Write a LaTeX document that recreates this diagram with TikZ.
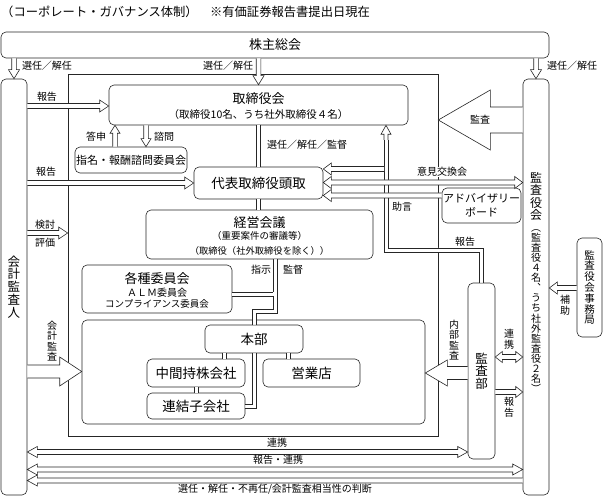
\documentclass[tikz,border=0pt]{standalone}
\usepackage{fontspec}
\setmainfont{Noto Sans CJK JP}
\usetikzlibrary{calc}
\newcommand\fz[2]{\fontsize{#1}{#2}\selectfont}
% hollow arrow, one head at #2: body half #3, head half #4, head length #5
\newcommand\harr[5]{%
 \filldraw[harrow] let \p1=(#1), \p2=(#2),
   \n1={veclen(\x2-\x1,\y2-\y1)},
   \n2={(\x2-\x1)/\n1}, \n3={(\y2-\y1)/\n1} in
 ({\x1-\n3*#3},{\y1+\n2*#3})
 -- ({\x2-\n2*#5-\n3*#3},{\y2-\n3*#5+\n2*#3})
 -- ({\x2-\n2*#5-\n3*#4},{\y2-\n3*#5+\n2*#4})
 -- (\x2,\y2)
 -- ({\x2-\n2*#5+\n3*#4},{\y2-\n3*#5-\n2*#4})
 -- ({\x2-\n2*#5+\n3*#3},{\y2-\n3*#5-\n2*#3})
 -- ({\x1+\n3*#3},{\y1-\n2*#3});}
% hollow arrow, heads at both ends
\newcommand\hdarr[5]{%
 \filldraw[harrow] let \p1=(#1), \p2=(#2),
   \n1={veclen(\x2-\x1,\y2-\y1)},
   \n2={(\x2-\x1)/\n1}, \n3={(\y2-\y1)/\n1} in
 ({\x1+\n2*#5-\n3*#3},{\y1+\n3*#5+\n2*#3})
 -- ({\x2-\n2*#5-\n3*#3},{\y2-\n3*#5+\n2*#3})
 -- ({\x2-\n2*#5-\n3*#4},{\y2-\n3*#5+\n2*#4})
 -- (\x2,\y2)
 -- ({\x2-\n2*#5+\n3*#4},{\y2-\n3*#5-\n2*#4})
 -- ({\x2-\n2*#5+\n3*#3},{\y2-\n3*#5-\n2*#3})
 -- ({\x1+\n2*#5+\n3*#3},{\y1+\n3*#5-\n2*#3})
 -- ({\x1+\n2*#5+\n3*#4},{\y1+\n3*#5-\n2*#4})
 -- (\x1,\y1)
 -- ({\x1+\n2*#5-\n3*#4},{\y1+\n3*#5+\n2*#4})
 -- cycle;}
% straight double connector (two thin parallel lines, white between)
\newcommand\dseg[2]{%
 \fill[white] ($(#1)!2pt!90:(#2)$) -- ($(#2)!2pt!-90:(#1)$) -- ($(#2)!2pt!90:(#1)$) -- ($(#1)!2pt!-90:(#2)$) -- cycle;
 \draw[dl] ($(#1)!2pt!90:(#2)$) -- ($(#2)!2pt!-90:(#1)$);
 \draw[dl] ($(#1)!2pt!-90:(#2)$) -- ($(#2)!2pt!90:(#1)$);}
\begin{document}
\begin{tikzpicture}[x=1pt,y=-1pt,
  box/.style={draw=black!85, fill=white, rounded corners=5pt, line width=0.6pt, inner sep=0pt, align=center},
  txt/.style={inner sep=0pt, align=center},
  lbl/.style={inner sep=0pt, align=center, font=\fz{10}{10.5}},
  vlbl/.style={inner sep=0pt, align=center, font=\fz{10}{10.6}},
  dl/.style={draw=black!85, line width=0.6pt, line join=miter},
  harrow/.style={draw=black!85, fill=white, line width=0.6pt, line join=miter}]
\useasboundingbox (0,0) rectangle (603,497);

\node[txt, anchor=west, font=\fz{12.3}{14}] (title) at (1,12) {（コーポレート・ガバナンス体制）　※有価証券報告書提出日現在};

% frames
\node[draw=black!85, line width=0.6pt, minimum width=370pt, minimum height=362pt, inner sep=0pt] (frame) at (253,255) {};
\node[box, minimum width=343pt, minimum height=104pt] (inner) at (253.5,372) {};

% boxes
\node[box, minimum width=548pt, minimum height=26pt, font=\fz{13}{14}] (kabunushi) at (275,45) {株主総会};
\node[box, minimum width=26pt, minimum height=416pt, font=\fz{12.5}{12.8}] (acc) at (14,287) {会\\計\\監\\査\\人};
\node[box, minimum width=26pt, minimum height=416pt] (kansayaku) at (536,287) {};
\node[txt, font=\fz{12}{12.2}] (kansayaku-t) at (536,196.5) {監\\査\\役\\会};
\node[txt, font=\fz{10}{10.1}] (kansayaku-s) at (536,311) {︵\\監\\査\\役\\４\\名\\︑\\う\\ち\\社\\外\\監\\査\\役\\２\\名\\︶};
\node[box, minimum width=25pt, minimum height=99pt, font=\fz{10.5}{10.8}] (jimukyoku) at (589.5,287.5) {監\\査\\役\\会\\事\\務\\局};

\node[box, minimum width=299pt, minimum height=40pt] (torishimari) at (258.5,105) {};
\node[txt, font=\fz{13}{14}] (torishimari-t) at (258.5,99) {取締役会};
\node[txt, font=\fz{10.5}{12}] (torishimari-s) at (258.5,114.5) {（取締役10名、うち社外取締役４名）};

\node[box, minimum width=112pt, minimum height=26pt, font=\fz{11}{12}] (shimei) at (131,160) {指名・報酬諮問委員会};
\node[box, minimum width=129pt, minimum height=32pt, font=\fz{13.5}{14}] (daihyo) at (258.5,183) {代表取締役頭取};

\node[box, minimum width=227pt, minimum height=49pt] (keiei) at (259.5,234.5) {};
\node[txt, font=\fz{13}{14}] (keiei-t) at (259.5,222.5) {経営会議};
\node[txt, font=\fz{9.5}{11}] (keiei-s1) at (259.5,235.5) {（重要案件の審議等）};
\node[txt, font=\fz{9.3}{11}] (keiei-s2) at (259.5,250.5) {（取締役（社外取締役を除く））};

\node[box, minimum width=79pt, minimum height=35pt] (advisory) at (481.5,205.5) {};
\node[txt, font=\fz{11}{12}] (advisory-t1) at (481.5,198.5) {アドバイザリー};
\node[txt, font=\fz{11}{12}] (advisory-t2) at (481.5,212) {ボード};

\node[box, minimum width=150pt, minimum height=48pt] (kakushu) at (157,289) {};
\node[txt, font=\fz{13}{14}] (kakushu-t) at (157,279) {各種委員会};
\node[txt, font=\fz{10}{11}] (kakushu-s1) at (157,293) {ＡＬＭ委員会};
\node[txt, font=\fz{9.5}{11}] (kakushu-s2) at (157,303.5) {コンプライアンス委員会};

\node[box, minimum width=98pt, minimum height=28pt, font=\fz{13.5}{14}] (honbu) at (254,339) {本部};
\node[box, minimum width=98pt, minimum height=28pt, font=\fz{13.5}{14}] (chukan) at (196,373) {中間持株会社};
\node[box, minimum width=97pt, minimum height=28pt, font=\fz{13.5}{14}] (eigyo) at (311.5,373) {営業店};
\node[box, minimum width=98pt, minimum height=26pt, font=\fz{13.5}{14}] (renketsu) at (196,406) {連結子会社};
\node[box, minimum width=27pt, minimum height=176pt, font=\fz{12.5}{12.5}] (kansabu) at (481.5,371) {監\\査\\部};

% bend points of the double connectors
\coordinate (j1) at (275,311);
\coordinate (j5) at (275,294);
\coordinate (j2) at (481.5,250);
\coordinate (j3) at (386,250);
\coordinate (j4) at (386,140);
\coordinate (c224) at (224,0);
\coordinate (c288) at (288,0);

% straight double connectors
\dseg{torishimari.south}{daihyo.north}
\dseg{daihyo.south}{daihyo.south |- keiei.north}
\dseg{honbu.south -| c224}{chukan.north -| c224}
\dseg{honbu.south -| c288}{eigyo.north -| c288}
\dseg{chukan.south}{renketsu.north}

% 経営会議 -> 本部
\fill[white] ($(keiei.south -| j1)+(2,0)$) -- ($(j1)+(2,2)$) -- ($(honbu.north |- j1)+(2,2)$) -- ($(honbu.north)+(2,0)$)
  -- ($(honbu.north)+(-2,0)$) -- ($(honbu.north |- j1)+(-2,-2)$) -- ($(j1)+(-2,-2)$) -- ($(keiei.south -| j1)+(-2,0)$) -- cycle;
\draw[dl] ($(keiei.south -| j1)+(2,0)$) -- ($(j1)+(2,2)$) -- ($(honbu.north |- j1)+(2,2)$) -- ($(honbu.north)+(2,0)$);
\draw[dl] ($(keiei.south -| j1)+(-2,0)$) -- ($(j1)+(-2,-2)$) -- ($(honbu.north |- j1)+(-2,-2)$) -- ($(honbu.north)+(-2,0)$);
% 各種委員会 branch
\fill[white] ($(kakushu.east |- j5)+(0,-2)$) rectangle ($(j5)+(0,2)$);
\draw[dl] ($(kakushu.east |- j5)+(0,-2)$) -- ($(j5)+(-2,-2)$);
\draw[dl] ($(kakushu.east |- j5)+(0,2)$) -- ($(j5)+(-2,2)$);
% 本部 -> 連結子会社
\fill[white] ($(honbu.south)+(2,0)$) -- ($(honbu.south |- renketsu.east)+(2,2)$) -- ($(renketsu.east)+(0,2)$)
  -- ($(renketsu.east)+(0,-2)$) -- ($(honbu.south |- renketsu.east)+(-2,-2)$) -- ($(honbu.south)+(-2,0)$) -- cycle;
\draw[dl] ($(honbu.south)+(2,0)$) -- ($(honbu.south |- renketsu.east)+(2,2)$) -- ($(renketsu.east)+(0,2)$);
\draw[dl] ($(honbu.south)+(-2,0)$) -- ($(honbu.south |- renketsu.east)+(-2,-2)$) -- ($(renketsu.east)+(0,-2)$);
% 監査部 -> 取締役会 (report)
\fill[white] ($(kansabu.north)+(2,0)$) -- ($(j2)+(2,-2)$) -- ($(j3)+(2,-2)$) -- ($(j4)+(2,0)$)
  -- ($(j4)+(-2,0)$) -- ($(j3)+(-2,2)$) -- ($(j2)+(-2,2)$) -- ($(kansabu.north)+(-2,0)$) -- cycle;
\draw[dl] ($(kansabu.north)+(2,0)$) -- ($(j2)+(2,-2)$) -- ($(j3)+(2,-2)$) -- ($(j4)+(2,0)$);
\draw[dl] ($(kansabu.north)+(-2,0)$) -- ($(j2)+(-2,2)$) -- ($(j3)+(-2,2)$) -- ($(j4)+(-2,0)$);

% hollow arrows
\harr{kabunushi.south -| acc.north}{acc.north}{2.3}{5.5}{9}
\harr{kabunushi.south -| torishimari.north}{torishimari.north}{2.3}{5.5}{9}
\harr{kabunushi.south -| kansayaku.north}{kansayaku.north}{2.3}{5.5}{9}
\harr{shimei.north -| 115,0}{torishimari.south -| 115,0}{2.3}{5}{8}
\harr{torishimari.south -| 146,0}{shimei.north -| 146,0}{2.3}{5}{8}
\harr{acc.east |- 0,106}{torishimari.west |- 0,106}{2.5}{6}{9}
\harr{acc.east |- daihyo.west}{daihyo.west}{2.5}{6}{9}
\harr{acc.east |- 0,233}{frame.west |- 0,233}{2.5}{6}{9}
\harr{acc.east |- 0,371.5}{inner.west |- 0,371.5}{6.5}{14.5}{22}
\harr{kansayaku.west |- 0,120}{frame.east |- 0,120}{13}{30}{52}
\harr{j4}{torishimari.south -| j4}{2}{5}{9}
\harr{384,169}{daihyo.east |- 0,169}{2.5}{6}{8}
\hdarr{daihyo.east |- 0,182.5}{kansayaku.west |- 0,182.5}{2.5}{6}{8}
\harr{advisory.west |- 0,195.5}{daihyo.east |- 0,195.5}{2.5}{6}{8}
\harr{kansabu.west |- 0,373}{inner.east |- 0,373}{6.5}{13}{22}
\hdarr{kansabu.east |- 0,357}{kansayaku.west |- 0,357}{2.5}{5.5}{7}
\harr{kansabu.east |- 0,392}{kansayaku.west |- 0,392}{2.5}{5.5}{7}
\harr{jimukyoku.west |- 0,288}{kansayaku.east |- 0,288}{2.5}{6}{8}
\hdarr{acc.east |- 0,452}{kansabu.west |- 0,452}{2.5}{5.5}{10}
\hdarr{acc.east |- 0,469.5}{kansayaku.west |- 0,469.5}{2.5}{5.5}{10}
\harr{kansayaku.west |- 0,480.5}{acc.east |- 0,480.5}{2.5}{5.5}{10}

% labels
\node[lbl] (l1) at (47,66) {選任／解任};
\node[lbl] (l2) at (228,66) {選任／解任};
\node[lbl] (l3) at (572,66) {選任／解任};
\node[lbl] (l4) at (47,97) {報告};
\node[lbl] (l5) at (46,172) {報告};
\node[lbl] (l6) at (96,137) {答申};
\node[lbl] (l7) at (164,137) {諮問};
\node[lbl] (l8) at (307,145) {選任／解任／監督};
\node[lbl] (l9) at (480,120) {監査};
\node[lbl, fill=white] (l10) at (442,172) {意見交換会};
\node[lbl] (l11) at (402,207) {助言};
\node[lbl] (l12) at (465,242) {報告};
\node[lbl] (l13) at (45,225) {検討};
\node[lbl] (l14) at (45,243) {評価};
\node[lbl] (l15) at (261,270) {指示};
\node[lbl] (l16) at (293,270) {監督};
\node[vlbl] (l17) at (52,341) {会\\計\\監\\査};
\node[vlbl] (l18) at (454,340) {内\\部\\監\\査};
\node[vlbl] (l19) at (509,339) {連\\携};
\node[vlbl] (l20) at (509,407) {報\\告};
\node[vlbl] (l21) at (565,305) {補\\助};
\node[lbl] (l22) at (277,443) {連携};
\node[lbl] (l23) at (278,460) {報告・連携};
\node[lbl] (l24) at (275,489) {選任・解任・不再任/会計監査相当性の判断};
\end{tikzpicture}
\end{document}
